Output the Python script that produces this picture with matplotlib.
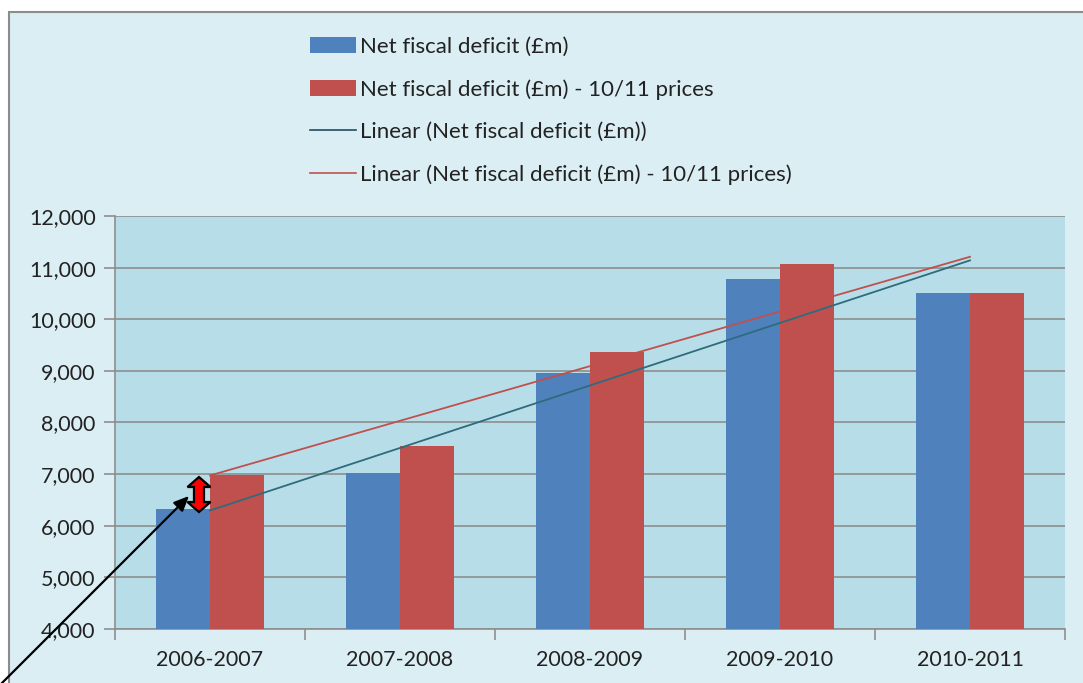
import matplotlib
matplotlib.use("Agg")
import matplotlib.pyplot as plt
import numpy as np
from matplotlib.patches import Patch, Rectangle, Polygon
from matplotlib.lines import Line2D
import matplotlib.transforms as mtransforms

categories = ["2006-2007", "2007-2008", "2008-2009", "2009-2010", "2010-2011"]
deficit = [6330, 7020, 8960, 10770, 10510]
deficit_real = [6980, 7540, 9360, 11070, 10510]
yticks = [4000, 5000, 6000, 7000, 8000, 9000, 10000, 11000, 12000]
labels = ["Net fiscal deficit (£m)", "Net fiscal deficit (£m) - 10/11 prices",
          "Linear (Net fiscal deficit (£m))", "Linear (Net fiscal deficit (£m) - 10/11 prices)"]

plt.rcParams['font.family'] = ['Lato', 'DejaVu Sans']
W, H = 1083, 683
fig = plt.figure(figsize=(W/100, H/100), dpi=100)
fig.patch.set_facecolor('white')
fig.patches.append(Rectangle((9/W, -0.05), 1.2, 1 - 12/H + 0.05, transform=fig.transFigure,
                             facecolor='#DBEEF4', edgecolor='#8C8C8C', lw=1.5, zorder=-10))

ax = fig.add_axes([115/W, 1 - 629/H, 950/W, 413/H])
ax.set_facecolor('#B7DEE8')
x = np.arange(len(categories))
bw = 0.284
blue = '#4F81BD'
red = '#C0504D'
ax.bar(x - bw/2, deficit, bw, color=blue, zorder=3)
ax.bar(x + bw/2, deficit_real, bw, color=red, zorder=3)

p1 = np.polyfit(x, deficit, 1)
p2 = np.polyfit(x, deficit_real, 1)
tcol1 = '#2F6B7C'
ax.plot(x[[0, -1]], np.polyval(p1, x[[0, -1]]), color=tcol1, lw=1.3, zorder=4)
ax.plot(x[[0, -1]], np.polyval(p2, x[[0, -1]]), color=red, lw=1.3, zorder=4)

tfs = 15.5
ax.set_xlim(-0.5, len(categories) - 0.5)
ax.set_ylim(4000, 12000)
ax.set_yticks(yticks)
ax.set_yticklabels([f"{v:,}" for v in yticks], fontsize=tfs, color='#222222')
ax.yaxis.grid(True, color='#8E8E8E', lw=1.2, zorder=1)
ax.set_axisbelow(True)
ax.set_xticks(x)
ax.set_xticklabels(categories, fontsize=tfs, color='#222222')
ax.set_xticks(np.arange(-0.5, len(categories)), minor=True)
ax.tick_params(axis='x', which='major', length=0, pad=15)
ax.tick_params(axis='x', which='minor', length=8, color='#8E8E8E', width=1.2)
ax.tick_params(axis='y', length=8, color='#8E8E8E', width=1.2, pad=6)
for s in ['top', 'right']:
    ax.spines[s].set_visible(False)
for s in ['left', 'bottom']:
    ax.spines[s].set_color('#8E8E8E')
    ax.spines[s].set_linewidth(1.2)

handles = [Patch(facecolor=blue), Patch(facecolor=red),
           Line2D([], [], color='#1F4E5F', lw=1.2), Line2D([], [], color=red, lw=1.2)]
fig.legend(handles, labels, loc='upper left', bbox_to_anchor=(290/W, 1 - 17/H),
           frameon=False, fontsize=16, handlelength=2.05, handleheight=0.7,
           labelspacing=1.0, handletextpad=0.2, labelcolor='#222222')

# annotation: red double arrow between the two trend lines at the first category
xa = -0.058
ya = (np.polyval(p1, 0) + np.polyval(p2, 0)) / 2 - 30
trans = fig.dpi_scale_trans + mtransforms.ScaledTranslation(xa, ya, ax.transData)
half_len, head_len, head_w, shaft_w = 0.175, 0.10, 0.115, 0.05
verts = [(0, half_len), (head_w, half_len - head_len), (shaft_w, half_len - head_len),
         (shaft_w, -half_len + head_len), (head_w, -half_len + head_len), (0, -half_len),
         (-head_w, -half_len + head_len), (-shaft_w, -half_len + head_len),
         (-shaft_w, half_len - head_len), (-head_w, half_len - head_len)]
fig.patches.append(Polygon(verts, closed=True, transform=trans, facecolor='#FF0000',
                           edgecolor='black', lw=1.6, zorder=6, joinstyle='miter'))

# black pointer arrow
ax.annotate('', xy=(189, H - 496), xycoords='figure pixels', xytext=(-8, H - 683 - 10),
            textcoords='figure pixels', annotation_clip=False,
            arrowprops=dict(arrowstyle='-|>,head_length=0.9,head_width=0.4', lw=1.6, color='black',
                            shrinkA=0, shrinkB=0), zorder=7)

fig.savefig('out.png', dpi=100, facecolor=fig.get_facecolor())
